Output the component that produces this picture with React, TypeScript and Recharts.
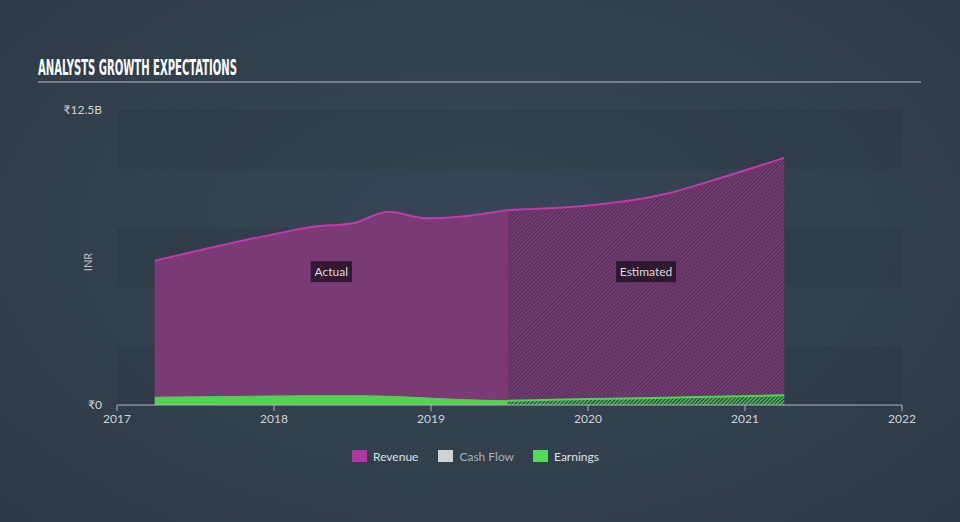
import React from 'react';
import {
  AreaChart,
  Area,
  XAxis,
  YAxis,
  ReferenceArea,
  ReferenceDot,
  Legend,
} from 'recharts';

// ---- data (values in billions of INR, time in decimal years) ----
const times = [2017.24, 2018.0, 2018.25, 2018.5, 2018.73, 2018.97, 2019.23, 2019.49, 2020.0, 2020.5, 2020.8, 2021.25];
const revenueActual = [6.11, 7.24, 7.55, 7.7, 8.19, 7.91, 8.01, 8.26, null, null, null, null];
const revenueEstimated = [null, null, null, null, null, null, null, 8.26, 8.45, 8.95, 9.53, 10.47];
const earningsActual = [0.33, 0.38, 0.39, 0.39, 0.37, 0.3, 0.22, 0.18, null, null, null, null];
const earningsEstimated = [null, null, null, null, null, null, null, 0.18, 0.25, 0.31, 0.35, 0.41];

const xTicks = [2017, 2018, 2019, 2020, 2021, 2022];
const yTicks = [0, 12.5];
const yTickLabels = ['₹0', '₹12.5B'];
const bands = [
  [0, 2.5],
  [5, 7.5],
  [10, 12.5],
];
const periodLabels = [
  { name: 'Actual', x: (2017.24 + 2019.49) / 2, y: 5.65 },
  { name: 'Estimated', x: (2019.49 + 2021.25) / 2, y: 5.65 },
];
const legendItems = [
  { name: 'Revenue', color: '#ad389f', text: '#dfe2e6' },
  { name: 'Cash Flow', color: '#d2d2d2', text: '#aab1b9' },
  { name: 'Earnings', color: '#4fdc52', text: '#dfe2e6' },
];

const data = times.map((t, i) => ({
  t,
  revA: revenueActual[i],
  revE: revenueEstimated[i],
  earnA: earningsActual[i],
  earnE: earningsEstimated[i],
}));

const FONT = 'Lato, "Open Sans", sans-serif';

const LabelBox = (props: any) => {
  const { cx, cy, label } = props;
  const w = label.length * 6.2 + 4;
  return (
    <g>
      <rect x={cx - w / 2} y={cy - 10.5} width={w} height={21} fill="rgba(30,16,32,0.78)" />
      <text x={cx} y={cy + 4} textAnchor="middle" fill="#dcdcdc" fontSize={12} fontFamily={FONT}>
        {label}
      </text>
    </g>
  );
};

const renderLegend = () => (
  <div style={{ display: 'flex', alignItems: 'center', height: 24, fontFamily: FONT, fontSize: 12 }}>
    {legendItems.map((it, i) => (
      <div key={it.name} style={{ display: 'flex', alignItems: 'center', marginRight: i === 0 ? 20 : 19 }}>
        <div style={{ width: 15, height: 12, background: it.color, marginRight: 6 }} />
        <span style={{ color: it.text }}>{it.name}</span>
      </div>
    ))}
  </div>
);

export default function App() {
  return (
    <div
      style={{
        position: 'absolute',
        left: 0,
        top: 0,
        width: 960,
        height: 522,
        background: 'radial-gradient(ellipse at 50% 45%, #374757 0%, #323f4d 60%, #2c3844 100%)',
        overflow: 'hidden',
      }}
    >
      <AreaChart
        width={960}
        height={522}
        data={data}
        margin={{ top: 110, right: 58, bottom: 63, left: 57 }}
      >
        <defs>
          <pattern id="hatchRev" patternUnits="userSpaceOnUse" width="2.7" height="2.7" patternTransform="rotate(45)">
            <rect width="2.7" height="2.7" fill="#7d3b78" />
            <line x1="0.6" y1="0" x2="0.6" y2="2.7" stroke="#46304f" strokeWidth="1.05" />
          </pattern>
          <pattern id="hatchEarn" patternUnits="userSpaceOnUse" width="2.7" height="2.7" patternTransform="rotate(45)">
            <rect width="2.7" height="2.7" fill="#2f3b46" />
            <line x1="0.6" y1="0" x2="0.6" y2="2.7" stroke="#4fd452" strokeWidth="1.4" />
          </pattern>
        </defs>
        {bands.map(([a, b]) => (
          <ReferenceArea key={a} y1={a} y2={b} x1={2017} x2={2022} fill="#1c2632" fillOpacity={0.14} stroke="none" ifOverflow="visible" />
        ))}
        <XAxis
          dataKey="t"
          type="number"
          domain={[2017, 2022]}
          ticks={xTicks}
          height={30}
          allowDataOverflow
          stroke="#a9b3bd"
          tickLine={{ stroke: '#a9b3bd' }}
          tick={{ fill: '#cfd4da', fontSize: 12, fontFamily: FONT }}
          tickMargin={3}
        />
        <YAxis
          type="number"
          domain={[0, 12.5]}
          ticks={yTicks}
          width={60}
          axisLine={false}
          tickLine={false}
          tickSize={0}
          tickMargin={15}
          tick={{ fill: '#cfd4da', fontSize: 12, fontFamily: FONT }}
          tickFormatter={(v: number) => yTickLabels[yTicks.indexOf(v)] ?? ''}
        />
        <Area
          dataKey="revA"
          type="monotone"
          stroke="#c13aaa"
          strokeWidth={2}
          fill="#7b3a76"
          fillOpacity={1}
          dot={false}
          activeDot={false}
          isAnimationActive={false}
        />
        <Area
          dataKey="revE"
          type="monotone"
          stroke="#c13aaa"
          strokeWidth={2}
          fill="url(#hatchRev)"
          fillOpacity={1}
          dot={false}
          activeDot={false}
          isAnimationActive={false}
        />
        <Area
          dataKey="earnA"
          type="monotone"
          stroke="#4fd452"
          strokeWidth={1}
          fill="#4fd452"
          fillOpacity={1}
          dot={false}
          activeDot={false}
          isAnimationActive={false}
        />
        <Area
          dataKey="earnE"
          type="monotone"
          stroke="#4fd452"
          strokeWidth={2}
          fill="url(#hatchEarn)"
          fillOpacity={1}
          dot={false}
          activeDot={false}
          isAnimationActive={false}
        />
        {periodLabels.map((p) => (
          <ReferenceDot
            key={p.name}
            x={p.x}
            y={p.y}
            r={0}
            ifOverflow="visible"
            shape={(props: any) => <LabelBox {...props} label={p.name} />}
          />
        ))}
        <Legend
          verticalAlign="bottom"
          content={renderLegend}
          wrapperStyle={{ top: 444, left: 352, bottom: 'auto', width: 'auto' }}
        />
      </AreaChart>
      <svg
        width={960}
        height={522}
        style={{ position: 'absolute', left: 0, top: 0, pointerEvents: 'none' }}
      >
        <text
          x={38}
          y={75}
          fill="#ffffff"
          fontSize={21}
          fontWeight="bold"
          fontFamily='"DejaVu Sans Condensed", "Liberation Sans Narrow", sans-serif'
          textLength={199}
          lengthAdjust="spacingAndGlyphs"
        >
          ANALYSTS GROWTH EXPECTATIONS
        </text>
        <line x1={38} y1={82} x2={921} y2={82} stroke="#b4bcc4" strokeWidth={1.2} />
        <text
          x={92}
          y={262}
          transform="rotate(-90, 92, 262)"
          textAnchor="middle"
          fill="#b9c0c7"
          fontSize={11}
          fontFamily={FONT}
        >
          INR
        </text>
      </svg>
    </div>
  );
}
